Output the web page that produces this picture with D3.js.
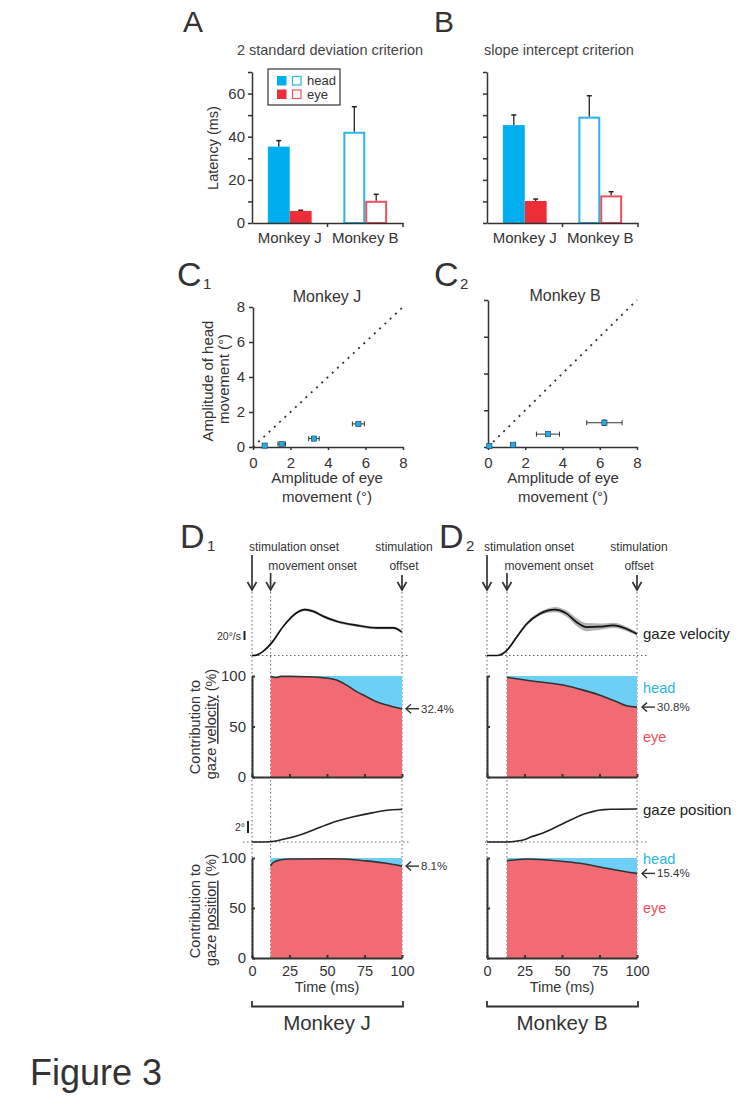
<!DOCTYPE html>
<html><head><meta charset="utf-8">
<script src="https://cdn.jsdelivr.net/npm/d3@7"></script>
<style>
body{margin:0;background:#fff;}
svg{display:block;font-family:"Liberation Sans",Arial,Helvetica,sans-serif;}
</style></head><body>
<svg id="fig" width="737" height="1102"></svg>
<script>
// ---------------- DATA ----------------
const monkeys = ["Monkey J", "Monkey B"];
const effectors = ["head", "eye"];
// Panel A: 2 SD criterion latencies (ms)
const sdHeadLatency = [35.4, 42.3];
const sdHeadErr = [2.8, 11.6];
const sdEyeLatency = [5.6, 10.3];
const sdEyeErr = [0.3, 3.0];
// Panel B: slope intercept criterion latencies (ms)
const siHeadLatency = [45.4, 49.3];
const siHeadErr = [4.7, 9.7];
const siEyeLatency = [10.2, 12.8];
const siEyeErr = [0.9, 1.7];
const latencyTicks = [0, 10, 20, 30, 40, 50, 60, 70];
const latencyLabels = [0, 20, 40, 60];
// Panels C: amplitudes (deg)
const ampTicks = [0, 2, 4, 6, 8];
const eyeAmpJ = [0.62, 1.53, 3.25, 5.62];
const eyeAmpErrJ = [0.1, 0.2, 0.28, 0.32];
const headAmpJ = [0.08, 0.17, 0.48, 1.32];
const headAmpErrJ = [0.04, 0.05, 0.06, 0.1];
const eyeAmpB = [0.07, 1.35, 3.22, 6.25];
const eyeAmpErrB = [0.05, 0.12, 0.62, 0.95];
const headAmpB = [0.05, 0.12, 0.7, 1.32];
const headAmpErrB = [0.03, 0.05, 0.1, 0.15];
// Panels D: time courses
const timeTicks = [0, 25, 50, 75, 100];
const contribTicks = [0, 50, 100];
const onsetJ = 12.4, onsetB = 13.3;
const velTimeJ = [0, 3, 7.6, 13.1, 20.9, 29.8, 35.3, 40.9, 47.6, 56.4, 69.8, 83.1, 94.2, 100];
const velJ =     [0, 1, 9.6, 28, 65, 95, 102, 98, 87, 76, 67, 61.5, 61.5, 52];
const velSdJ =   [0.5, 0.5, 1.5, 2, 2.5, 3, 3, 3, 3, 3, 3, 3, 3, 3];
const velTimeB = [0, 6.4, 13.1, 19.8, 26.4, 35.3, 45.3, 53.1, 59.8, 66.4, 75.3, 84.2, 93.1, 100];
const velB =     [0, 0, 11, 41, 70, 93, 102, 93, 74, 63, 64, 67, 59, 48];
const velSdB =   [0, 0, 2, 3, 4, 4, 6, 7, 9, 9, 7, 6, 5, 4];
const posTimeJ = [0, 12, 20.9, 32, 40.9, 52, 67.6, 80.9, 92, 100];
const posJ =     [0, 0.05, 0.45, 1.17, 2.0, 3.1, 4.2, 4.9, 5.33, 5.45];
const posTimeB = [0, 13.3, 20, 24, 28.7, 37.3, 50.9, 66.4, 82, 100];
const posB =     [0, 0, 0.17, 0.33, 0.78, 1.5, 3.1, 4.8, 5.45, 5.5];
const eyeVelTimeJ = [12.4, 16, 19, 25, 36.4, 49.8, 56.4, 63, 69.8, 76.4, 83, 89.8, 100];
const eyeVelJ =     [99.8, 98.5, 99.6, 99.6, 99.3, 98, 96, 91, 84.5, 79.5, 74.5, 71.3, 67.6];
const eyePosTimeJ = [12.4, 14.2, 18.7, 25.3, 52.7, 61.6, 75, 88.4, 100];
const eyePosJ =     [92, 95.7, 98, 99, 99.3, 99, 97.3, 95, 91.9];
const eyeVelTimeB = [13.3, 28.7, 50.9, 64.2, 75.3, 86.4, 93, 100];
const eyeVelB =     [98.7, 95.3, 91, 86, 81, 74.5, 70.5, 69.2];
const eyePosTimeB = [13.3, 26.4, 46.4, 62, 77.6, 88.7, 100];
const eyePosB =     [97.3, 99, 97.3, 94.7, 90.3, 87.3, 84.6];

// ---------------- STYLE ----------------
const svg = d3.select("#fig");
const TXT = "#333";
const BLUE = "#00aeef", RED = "#ed2e38";
const BLUE_OPEN = "#29b5e8", RED_OPEN = "#ef4f58";
const BLUE_LIGHT = "#6dcff6", RED_LIGHT = "#f06b74";
const FONT = '"Liberation Sans",Arial,Helvetica,sans-serif';

function styleAxis(g, w, fs) {
  g.attr("font-family", FONT).attr("font-size", fs);
  g.selectAll(".domain").attr("stroke", TXT).attr("stroke-width", w);
  g.selectAll(".tick line").attr("stroke", TXT).attr("stroke-width", w);
  g.selectAll(".tick text").attr("fill", TXT);
}
function text(g, x, y, s, opt = {}) {
  return g.append("text").attr("x", x).attr("y", y).text(s)
    .attr("font-size", opt.size || 14).attr("fill", opt.fill || TXT)
    .attr("text-anchor", opt.anchor || "start")
    .attr("dy", opt.dy || null);
}

// ---------------- PANELS A & B ----------------
function drawBars(cfg) {
  const g = svg.append("g");
  const y = d3.scaleLinear().domain([0, 70]).range([223, 72]);
  const gx = d3.scaleBand().domain(monkeys).range([cfg.x0, cfg.x0 + 151]).paddingInner(0.42).paddingOuter(0.21);
  const ix = d3.scaleBand().domain(effectors).range([0, gx.bandwidth()]);
  const rows = [];
  monkeys.forEach((m, i) => {
    rows.push({ m, e: "head", v: cfg.head[i], err: cfg.headErr[i], filled: i === 0 });
    rows.push({ m, e: "eye", v: cfg.eye[i], err: cfg.eyeErr[i], filled: i === 0 });
  });
  rows.forEach(r => {
    const x = gx(r.m) + ix(r.e), w = ix.bandwidth(), cx = x + w / 2;
    g.append("line").attr("x1", cx).attr("x2", cx).attr("y1", y(r.v)).attr("y2", y(r.v + r.err))
      .attr("stroke", "#222").attr("stroke-width", 1.3);
    g.append("line").attr("x1", cx - 2.5).attr("x2", cx + 2.5).attr("y1", y(r.v + r.err)).attr("y2", y(r.v + r.err))
      .attr("stroke", "#222").attr("stroke-width", 1.5);
    if (r.filled) {
      g.append("rect").attr("x", x).attr("y", y(r.v)).attr("width", w).attr("height", y(0) - y(r.v))
        .attr("fill", r.e === "head" ? BLUE : RED);
    } else {
      g.append("rect").attr("x", x + 1).attr("y", y(r.v) + 1).attr("width", w - 2).attr("height", y(0) - y(r.v) - 1)
        .attr("fill", "#fff").attr("stroke", r.e === "head" ? BLUE_OPEN : RED_OPEN).attr("stroke-width", 2);
    }
  });
  const ay = g.append("g").attr("transform", `translate(${cfg.x0},0)`)
    .call(d3.axisLeft(y).tickValues(latencyTicks).tickSize(4).tickSizeOuter(0).tickPadding(3)
      .tickFormat(d => cfg.labels && latencyLabels.includes(d) ? d : ""));
  styleAxis(ay, 1.5, 15);
  const ax = g.append("g").attr("transform", "translate(0,223)")
    .call(d3.axisBottom(gx).tickSize(0).tickSizeOuter(0).tickPadding(9));
  styleAxis(ax, 1.5, 15);
  const mid = gx(monkeys[0]) + gx.step() - gx.step() * 0.21 + gx.step() * 0.0;
  [cfg.x0 + 151, (gx(monkeys[0]) + gx.bandwidth() + gx(monkeys[1])) / 2].forEach(xx => {
    g.append("line").attr("x1", xx).attr("x2", xx).attr("y1", 223).attr("y2", 227).attr("stroke", TXT).attr("stroke-width", 1.5);
  });
  text(g, cfg.titleX, 55, cfg.title, { size: 14.5, anchor: "middle", fill: "#444" });
  text(g, cfg.letterX, 32, cfg.letter, { size: 30, fill: "#333" });
  if (cfg.labels) {
    const ly = g.append("text").attr("transform", `translate(213,148) rotate(-90)`).attr("text-anchor", "middle")
      .attr("dy", "0.35em").attr("font-size", 14.5).attr("fill", TXT).text("Latency (ms)");
  }
  if (cfg.legend) {
    g.append("rect").attr("x", 268).attr("y", 69).attr("width", 72).attr("height", 36)
      .attr("fill", "#fff").attr("stroke", "#333").attr("stroke-width", 1.2);
    effectors.forEach((e, i) => {
      const yy = 76 + i * 13.5;
      const c = e === "head" ? BLUE : RED, co = e === "head" ? BLUE_OPEN : RED_OPEN;
      g.append("rect").attr("x", 277).attr("y", yy).attr("width", 9.5).attr("height", 9.5).attr("fill", c);
      g.append("rect").attr("x", 292.5).attr("y", yy + 0.5).attr("width", 8.5).attr("height", 8.5)
        .attr("fill", "#fff").attr("stroke", co).attr("stroke-width", 1.2);
      text(g, 307, yy + 4.8, e, { size: 13, dy: "0.35em" });
    });
  }
}
drawBars({ x0: 252, head: sdHeadLatency, headErr: sdHeadErr, eye: sdEyeLatency, eyeErr: sdEyeErr,
  labels: true, legend: true, title: "2 standard deviation criterion", titleX: 330, letter: "A", letterX: 183 });
drawBars({ x0: 487, head: siHeadLatency, headErr: siHeadErr, eye: siEyeLatency, eyeErr: siEyeErr,
  labels: false, legend: false, title: "slope intercept criterion", titleX: 559, letter: "B", letterX: 434 });

// ---------------- PANELS C ----------------
function drawScatter(cfg) {
  const g = svg.append("g");
  const x = d3.scaleLinear().domain([0, 8]).range(cfg.xr);
  const y = d3.scaleLinear().domain([0, 8]).range(cfg.yr);
  g.append("line").attr("x1", x(0)).attr("y1", y(0)).attr("x2", x(8)).attr("y2", y(8))
    .attr("stroke", "#333").attr("stroke-width", 1.8).attr("stroke-dasharray", "2,5.2");
  const ay = g.append("g").attr("transform", `translate(${x(0)},0)`)
    .call(d3.axisLeft(y).tickValues(ampTicks).tickSize(4).tickSizeOuter(0).tickPadding(4)
      .tickFormat(d => cfg.yLabels ? d : ""));
  styleAxis(ay, 1.5, 15);
  const ax = g.append("g").attr("transform", `translate(0,${y(0)})`)
    .call(d3.axisBottom(x).tickValues(ampTicks).tickSize(3).tickSizeOuter(0).tickPadding(7));
  styleAxis(ax, 1.5, 15);
  cfg.eye.forEach((ev, i) => {
    const hv = cfg.head[i], ex = cfg.eyeErr[i], hy = cfg.headErr[i];
    const cx = x(ev), cy = y(hv);
    g.append("line").attr("x1", x(ev - ex)).attr("x2", x(ev + ex)).attr("y1", cy).attr("y2", cy).attr("stroke", "#333").attr("stroke-width", 1);
    [ev - ex, ev + ex].forEach(v => g.append("line").attr("x1", x(v)).attr("x2", x(v)).attr("y1", cy - 2.5).attr("y2", cy + 2.5).attr("stroke", "#333").attr("stroke-width", 1));
    g.append("line").attr("x1", cx).attr("x2", cx).attr("y1", y(hv - hy)).attr("y2", y(hv + hy)).attr("stroke", "#333").attr("stroke-width", 1);
    [hv - hy, hv + hy].forEach(v => g.append("line").attr("x1", cx - 2).attr("x2", cx + 2).attr("y1", y(v)).attr("y2", y(v)).attr("stroke", "#333").attr("stroke-width", 1));
    g.append("rect").attr("x", cx - 2.6).attr("y", cy - 2.6).attr("width", 5.2).attr("height", 5.2)
      .attr("fill", "#29abe2").attr("stroke", "#1d4f6e").attr("stroke-width", 0.7);
  });
  text(g, cfg.titleX, cfg.titleY, cfg.title, { size: 16, anchor: "middle" });
  text(g, cfg.labelX, 483, "Amplitude of eye", { size: 15, anchor: "middle" });
  text(g, cfg.labelX, 502, "movement (°)", { size: 15, anchor: "middle" });
  if (cfg.yLabels) {
    g.append("text").attr("transform", "translate(208,381) rotate(-90)").attr("text-anchor", "middle").attr("dy", "0.35em")
      .attr("font-size", 15).attr("fill", TXT).text("Amplitude of head");
    g.append("text").attr("transform", "translate(224,379) rotate(-90)").attr("text-anchor", "middle").attr("dy", "0.35em")
      .attr("font-size", 15).attr("fill", TXT).text("movement (°)");
  }
  text(g, cfg.letterX, 286, "C", { size: 34 });
  text(g, cfg.letterX + 26, 289, cfg.sub, { size: 15 });
}
drawScatter({ xr: [253, 403], yr: [447, 307], eye: eyeAmpJ, eyeErr: eyeAmpErrJ, head: headAmpJ, headErr: headAmpErrJ,
  yLabels: true, title: "Monkey J", titleX: 327, titleY: 302, labelX: 327, letterX: 177, sub: "1" });
drawScatter({ xr: [488, 637], yr: [447, 300], eye: eyeAmpB, eyeErr: eyeAmpErrB, head: headAmpB, headErr: headAmpErrB,
  yLabels: false, title: "Monkey B", titleX: 565, titleY: 301, labelX: 563, letterX: 434, sub: "2" });

// ---------------- PANELS D ----------------
function zip(ts, vs, extra) { return ts.map((t, i) => ({ t, v: vs[i], s: extra ? extra[i] : 0 })); }

function drawTime(cfg) {
  const g = svg.append("g");
  const t = d3.scaleLinear().domain([0, 100]).range([cfg.x0, cfg.x0 + 150]);
  const vy = d3.scaleLinear().domain([0, 20]).range([655.5, 646.5]);
  const py = d3.scaleLinear().domain([0, 2]).range([842, 830]);
  const cv = d3.scaleLinear().domain([0, 100]).range([777, 676]);
  const cp = d3.scaleLinear().domain([0, 100]).range([958, 858]);
  const curve = d3.curveMonotoneX;

  // letters
  text(g, cfg.letterX, 548, "D", { size: 34 });
  text(g, cfg.letterX + 27, 551, cfg.sub, { size: 15 });

  // header labels
  text(g, t(0) + 42, 551, "stimulation onset", { size: 12, anchor: "middle" });
  text(g, t(cfg.onset) + 42, 570, "movement onset", { size: 12, anchor: "middle" });
  text(g, t(100) + 2, 551, "stimulation", { size: 12, anchor: "middle" });
  text(g, t(100) + 2, 570, "offset", { size: 12, anchor: "middle" });
  // arrows
  [[0, 555], [cfg.onset, 573], [100, 575]].forEach(([tt, y1]) => {
    const xx = t(tt);
    g.append("line").attr("x1", xx).attr("x2", xx).attr("y1", y1).attr("y2", 589).attr("stroke", "#333").attr("stroke-width", 1.7);
    g.append("path").attr("d", `M${xx - 4.5},${582} L${xx},${590} L${xx + 4.5},${582}`).attr("fill", "none")
      .attr("stroke", "#333").attr("stroke-width", 1.7);
  });
  // vertical dotted lines
  [0, cfg.onset, 100].forEach(tt => {
    g.append("line").attr("x1", t(tt)).attr("x2", t(tt)).attr("y1", 592).attr("y2", 958)
      .attr("stroke", "#666").attr("stroke-width", 1).attr("stroke-dasharray", "1.5,2.5");
  });
  // horizontal dotted baselines
  g.append("line").attr("x1", cfg.velBase[0]).attr("x2", cfg.velBase[1]).attr("y1", vy(0)).attr("y2", vy(0))
    .attr("stroke", "#666").attr("stroke-width", 1).attr("stroke-dasharray", "1.5,2.5");
  g.append("line").attr("x1", cfg.posBase[0]).attr("x2", cfg.posBase[1]).attr("y1", py(0)).attr("y2", py(0))
    .attr("stroke", "#666").attr("stroke-width", 1).attr("stroke-dasharray", "1.5,2.5");

  // velocity trace with SD band
  const vel = zip(cfg.velT, cfg.vel, cfg.velSd);
  g.append("path").datum(vel).attr("fill", "#b3b3b3")
    .attr("d", d3.area().x(d => t(d.t)).y0(d => vy(d.v - d.s)).y1(d => vy(d.v + d.s)).curve(curve));
  g.append("path").datum(vel).attr("fill", "none").attr("stroke", "#111").attr("stroke-width", 1.7)
    .attr("d", d3.line().x(d => t(d.t)).y(d => vy(d.v)).curve(curve));
  // position trace
  const pos = zip(cfg.posT, cfg.pos);
  g.append("path").datum(pos).attr("fill", "none").attr("stroke", "#222").attr("stroke-width", 1.6)
    .attr("d", d3.line().x(d => t(d.t)).y(d => py(d.v)).curve(curve));

  // contribution panels
  function contrib(sc, ts, vs, withLabels, xLabels) {
    const d = zip(ts, vs);
    g.append("path").datum(d).attr("fill", BLUE_LIGHT)
      .attr("d", d3.area().x(p => t(p.t)).y0(p => sc(p.v)).y1(sc(100)).curve(curve));
    g.append("path").datum(d).attr("fill", RED_LIGHT)
      .attr("d", d3.area().x(p => t(p.t)).y0(sc(0)).y1(p => sc(p.v)).curve(curve));
    g.append("path").datum(d).attr("fill", "none").attr("stroke", "#333").attr("stroke-width", 1.6)
      .attr("d", d3.line().x(p => t(p.t)).y(p => sc(p.v)).curve(curve));
    const ay = g.append("g").attr("transform", `translate(${t(0)},0)`)
      .call(d3.axisLeft(sc).tickValues(contribTicks).tickSize(-3).tickSizeOuter(0).tickPadding(6)
        .tickFormat(v => withLabels ? v : ""));
    styleAxis(ay, 2, 15);
    const ax = g.append("g").attr("transform", `translate(0,${sc(0)})`)
      .call(d3.axisBottom(t).tickValues(timeTicks).tickSize(-3).tickSizeOuter(0).tickPadding(8)
        .tickFormat(v => xLabels ? v : ""));
    styleAxis(ax, 2, 14.5);
    // percent label
    const last = vs[vs.length - 1];
    const yy = sc(last);
    const x1 = t(100) + cfg.arrowOff;
    g.append("line").attr("x1", x1).attr("x2", x1 + 13).attr("y1", yy).attr("y2", yy).attr("stroke", "#333").attr("stroke-width", 1.4);
    g.append("path").attr("d", `M${x1 + 5},${yy - 4.5} L${x1},${yy} L${x1 + 5},${yy + 4.5}`).attr("fill", "none")
      .attr("stroke", "#333").attr("stroke-width", 1.4);
    text(g, x1 + 15, yy, (100 - last).toFixed(1) + "%", { size: 11.5, dy: "0.35em" });
    return sc;
  }
  contrib(cv, cfg.eyeVelT, cfg.eyeVel, cfg.yLabels, false);
  contrib(cp, cfg.eyePosT, cfg.eyePos, cfg.yLabels, true);

  text(g, t(50), 992, "Time (ms)", { size: 14.5, anchor: "middle" });
  g.append("path").attr("d", `M${t(0)},1001 L${t(0)},1006.5 L${t(100) + 1},1006.5 L${t(100) + 1},1001`)
    .attr("fill", "none").attr("stroke", "#333").attr("stroke-width", 1.8);
  text(g, t(50), 1030, cfg.monkey, { size: 20.5, anchor: "middle" });

  if (cfg.yLabels) {
    // scale bars
    g.append("line").attr("x1", 244.5).attr("x2", 244.5).attr("y1", 640).attr("y2", 640 - (vy(0) - vy(20)))
      .attr("stroke", "#222").attr("stroke-width", 2);
    text(g, 241, 636, "20°/s", { size: 10.5, anchor: "end", dy: "0.35em" });
    g.append("line").attr("x1", 248).attr("x2", 248).attr("y1", 833).attr("y2", 833 - (py(0) - py(2)))
      .attr("stroke", "#222").attr("stroke-width", 2);
    text(g, 245, 827, "2°", { size: 10.5, anchor: "end", dy: "0.35em" });
    // y titles
    const lab = (cx, cy, parts) => {
      const tx = g.append("text").attr("transform", `translate(${cx},${cy}) rotate(-90)`).attr("text-anchor", "middle")
        .attr("dy", "0.35em").attr("font-size", 14.5).attr("fill", TXT);
      parts.forEach(p => tx.append("tspan").text(p[0]).attr("text-decoration", p[1] ? "underline" : null));
    };
    lab(195, 727, [["Contribution to", false]]);
    lab(211, 724, [["gaze ", false], ["velocity", true], [" (%)", false]]);
    lab(195, 911, [["Contribution to", false]]);
    lab(211, 910, [["gaze ", false], ["position", true], [" (%)", false]]);
  } else {
    text(g, 643, 634, "gaze velocity", { size: 15, fill: "#222", dy: "0.35em" });
    text(g, 643, 810, "gaze position", { size: 15, fill: "#222", dy: "0.35em" });
    text(g, 643, 688, "head", { size: 14.5, fill: BLUE_OPEN, dy: "0.35em" });
    text(g, 643, 737, "eye", { size: 14.5, fill: RED_OPEN, dy: "0.35em" });
    text(g, 643, 859, "head", { size: 14.5, fill: BLUE_OPEN, dy: "0.35em" });
    text(g, 643, 908, "eye", { size: 14.5, fill: RED_OPEN, dy: "0.35em" });
  }
}
drawTime({ x0: 252, onset: onsetJ, velT: velTimeJ, vel: velJ, velSd: velSdJ, posT: posTimeJ, pos: posJ,
  eyeVelT: eyeVelTimeJ, eyeVel: eyeVelJ, eyePosT: eyePosTimeJ, eyePos: eyePosJ,
  yLabels: true, monkey: "Monkey J", letterX: 180, sub: "1", velBase: [250, 408], posBase: [243, 410], arrowOff: 4 });
drawTime({ x0: 487, onset: onsetB, velT: velTimeB, vel: velB, velSd: velSdB, posT: posTimeB, pos: posB,
  eyeVelT: eyeVelTimeB, eyeVel: eyeVelB, eyePosT: eyePosTimeB, eyePos: eyePosB,
  yLabels: false, monkey: "Monkey B", letterX: 439, sub: "2", velBase: [485, 647], posBase: [485, 647], arrowOff: 5 });

// Figure label
text(svg, 30, 1085, "Figure 3", { size: 36, fill: "#333" });
</script></body></html>
